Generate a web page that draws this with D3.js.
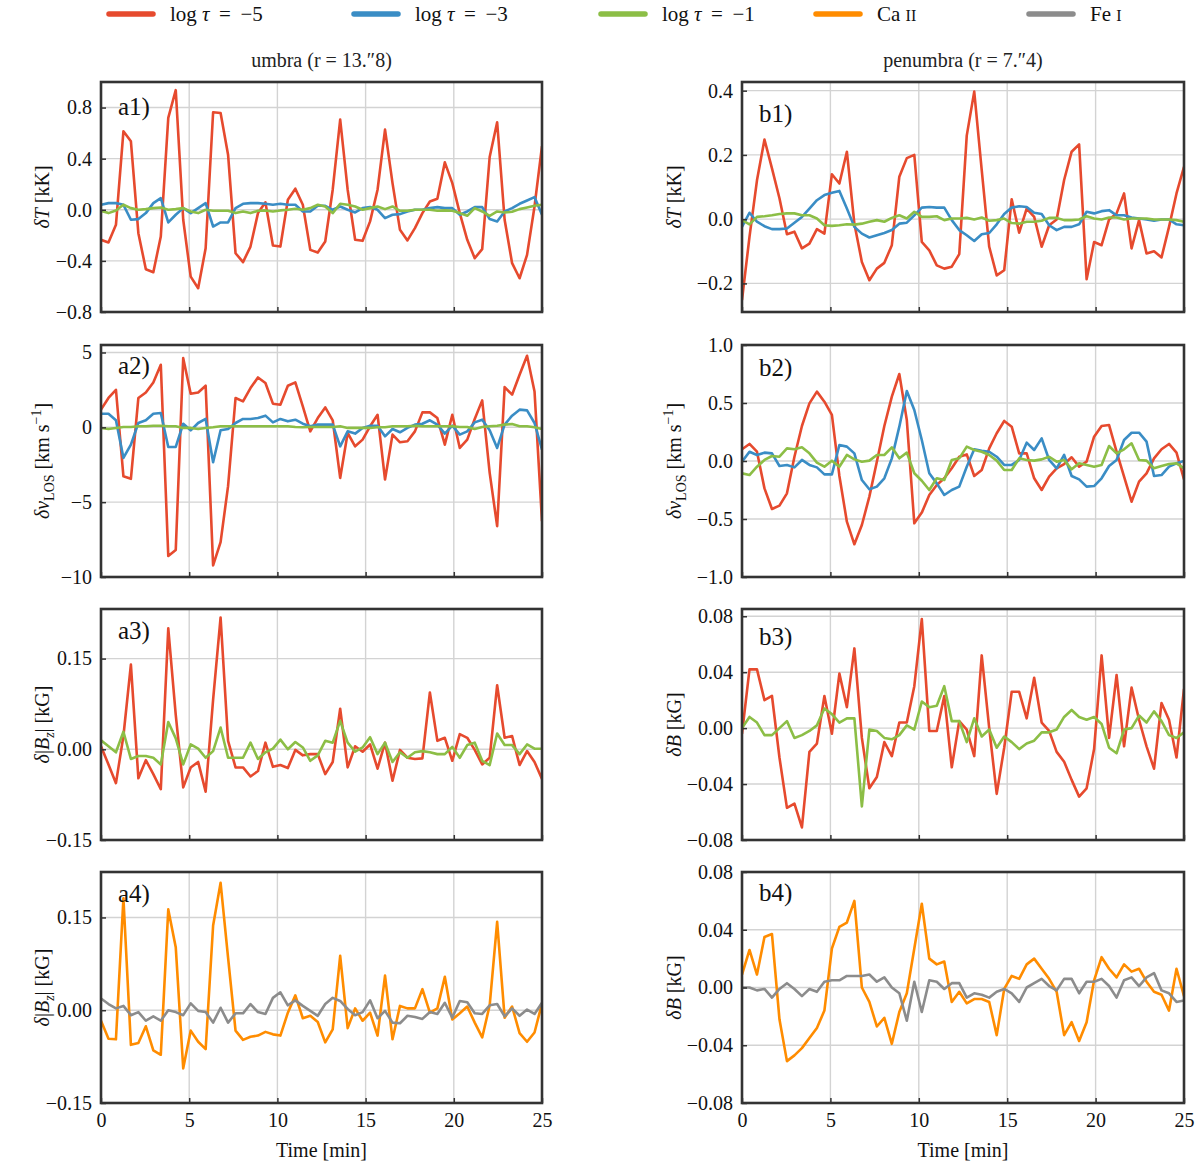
<!DOCTYPE html>
<html><head><meta charset="utf-8">
<script src="https://cdn.jsdelivr.net/npm/d3@7"></script>
<style>
body{margin:0;background:#fff;}
svg{display:block;}
svg text{font-family:"Liberation Serif","DejaVu Serif",serif;}
</style></head><body>
<svg id="chart" width="1200" height="1167"></svg>
<script>
// ---------- DATA ----------
const duration = 25, nSamples = 60;
const time = d3.range(nSamples).map(i => i * duration / (nSamples - 1));
const xTickValues = [0, 5, 10, 15, 20, 25];

// umbra, delta T [kK]
const a1_tau5 = [-0.235,-0.256,-0.118,0.614,0.536,-0.183,-0.465,-0.489,-0.209,0.719,0.936,-0.078,-0.523,-0.614,-0.301,0.763,0.758,0.431,-0.340,-0.410,-0.288,-0.026,0.058,-0.280,-0.288,0.078,0.165,0.039,-0.314,-0.335,-0.248,0.157,0.706,0.157,-0.235,-0.243,-0.091,0.157,0.627,0.209,-0.157,-0.240,-0.144,-0.026,0.065,0.086,0.371,0.209,-0.026,-0.235,-0.379,-0.308,0.413,0.685,-0.078,-0.418,-0.536,-0.353,0.026,0.497];
const a1_tau3 = [0.039,0.052,0.052,0.039,-0.078,-0.073,-0.026,0.052,0.091,-0.099,-0.039,0.013,-0.026,0.013,0.052,-0.131,-0.099,-0.099,0.013,0.047,0.052,0.052,0.047,0.039,0.047,0.039,0.039,-0.013,-0.013,0.031,0.031,0,0.026,0,-0.021,0.013,0.021,0,-0.065,-0.039,-0.034,-0.013,0,0,0.013,0.021,0.013,0.013,-0.039,-0.013,0.021,0.021,-0.073,-0.091,-0.013,0.013,0.047,0.073,0.099,-0.039];
const a1_tau1 = [-0.008,-0.026,-0.005,0.039,0.013,0,0.005,0.013,0.018,0,0.005,0.013,-0.013,-0.026,0,-0.008,-0.008,-0.008,-0.026,-0.013,-0.026,-0.008,-0.005,-0.013,-0.005,0,0.008,0,0.013,0.039,0.026,-0.026,0.047,0.039,0.026,0,0.013,0.026,0.005,0.026,-0.008,-0.008,0,0,0,-0.008,-0.005,-0.008,-0.026,-0.047,0.013,-0.013,-0.047,-0.013,-0.021,-0.016,0.005,0.018,0.031,0.039];
// umbra, delta v_LOS [km/s]
const a2_tau5 = [1.18,1.96,2.51,-3.27,-3.44,1.96,2.33,3.00,4.18,-8.60,-8.20,4.62,2.24,2.33,2.78,-9.22,-7.67,-3.93,1.96,1.73,2.62,3.33,2.96,1.58,1.51,2.78,3.00,1.40,-0.27,0.62,1.33,0.47,-3.38,-0.38,-1.27,-0.82,0.07,0.84,-3.49,-0.49,-1.00,-0.93,-0.27,1.00,1.00,0.62,-1.16,0.84,-1.38,-0.82,0.56,1.80,-3.04,-6.60,2.69,2.18,3.51,4.78,2.40,-6.27];
const a2_tau3 = [0.91,0.91,0.47,-2.04,-1.16,0.29,0.47,0.91,0.96,-1.31,-1.31,0.24,-0.20,0.29,0.56,-2.33,-0.20,-0.11,0.29,0.56,0.56,0.62,0.78,0.33,0.56,0.40,0.51,0.24,0.07,0.18,0.18,0.18,-1.27,-0.27,-0.42,-0.04,0.11,0.11,-0.60,-0.11,-0.33,-0.04,0.18,0.24,0.47,0.18,-0.42,0.11,-0.49,-0.27,0.33,0.51,-0.20,-1.38,0.18,0.78,1.18,1.13,0.29,-1.49];
const a2_tau1 = [-0.04,-0.11,-0.04,0.02,0.02,0.07,0.07,0.11,0.11,0.07,0.07,-0.04,-0.04,-0.11,-0.04,0,0.07,0.07,0.07,0.07,0.07,0.07,0.07,0.07,0.07,0.07,0.02,0,0.02,0.02,0.02,0.02,0.07,-0.04,-0.04,-0.04,-0.04,0,0,0.07,0.07,0.07,0.11,0.07,0.07,0.07,0.07,0.07,0.02,0.02,-0.11,0.02,0.07,0.11,0.18,0.22,0.07,0.07,0,-0.11];
// umbra, delta |Bz| [kG]
const a3_tau5 = [0.005,-0.025,-0.056,0.022,0.140,-0.048,-0.018,-0.041,-0.066,0.200,0.057,-0.063,-0.030,-0.021,-0.070,0.082,0.218,0.014,-0.030,-0.030,-0.045,-0.036,0.011,-0.029,-0.026,-0.031,-0.001,-0.010,-0.008,-0.008,-0.041,-0.021,0.067,-0.030,0.005,-0.004,0.008,-0.032,0.011,-0.052,-0.001,-0.014,-0.016,-0.015,0.094,0.014,0.019,-0.019,0.025,0.019,-0.001,-0.025,-0.014,0.106,0.019,0.022,-0.026,-0.003,-0.021,-0.049];
const a3_tau1 = [0.015,0.005,-0.005,0.029,-0.016,-0.011,-0.011,-0.014,-0.025,0.045,0.018,-0.025,0.008,0.001,-0.014,-0.003,0.036,-0.014,-0.014,-0.014,0.011,-0.016,-0.005,0.001,0.016,0,0.012,0.003,-0.019,-0.010,0.014,0.011,0.047,0.011,-0.004,0.003,0.020,-0.008,0.011,-0.021,-0.005,-0.014,-0.005,-0.003,-0.005,-0.008,-0.008,0.004,-0.014,0.007,0.011,-0.019,-0.026,0.026,0.007,0.007,-0.008,0.008,0.001,0.001];
const a4_ca = [-0.017,-0.046,-0.047,0.181,-0.056,-0.053,-0.026,-0.065,-0.072,0.163,0.102,-0.094,-0.033,-0.051,-0.063,0.137,0.206,0.085,-0.033,-0.048,-0.043,-0.041,-0.035,-0.039,-0.041,-0.004,0.024,-0.013,-0.009,-0.019,-0.052,-0.031,0.088,-0.029,0.003,-0.017,-0.004,-0.041,0.056,-0.047,0.007,0.003,0.003,0.034,-0.004,0.003,0.054,-0.015,-0.005,0.006,-0.020,-0.044,0.008,0.143,-0.012,0.006,-0.037,-0.051,-0.036,0.011];
const a4_fe = [0.019,0.010,0.003,0.007,-0.008,-0.003,-0.017,-0.010,-0.017,0,-0.003,-0.008,0.011,-0.001,-0.003,-0.020,0.004,-0.020,-0.005,-0.005,0.010,-0.003,-0.006,0.020,0.029,0.008,0.016,0.007,-0.001,-0.009,0.010,0.020,0.015,0.002,-0.008,-0.003,0.016,-0.013,-0.001,-0.020,-0.021,-0.009,-0.011,-0.014,-0.003,-0.006,0.012,-0.012,0.015,0.013,-0.005,-0.006,0.008,0.010,-0.010,0.003,-0.009,0.001,-0.006,0.012];

// penumbra, delta T [kK]
const b1_tau5 = [-0.252,-0.055,0.121,0.248,0.158,0.065,-0.047,-0.039,-0.091,-0.076,-0.031,-0.045,0.140,0.111,0.210,-0.014,-0.133,-0.190,-0.154,-0.136,-0.081,0.132,0.190,0.200,-0.071,-0.097,-0.144,-0.154,-0.148,-0.109,0.260,0.397,0.153,-0.086,-0.175,-0.159,0.062,-0.042,0.033,0.007,-0.086,-0.019,-0.001,0.122,0.210,0.233,-0.187,-0.071,-0.081,-0.001,0.018,0.080,-0.091,-0.003,-0.107,-0.100,-0.119,-0.024,0.080,0.163];
const b1_tau3 = [-0.024,0.020,-0.008,-0.022,-0.031,-0.031,-0.029,-0.011,0.007,0.033,0.059,0.075,0.082,0.088,0.033,-0.024,-0.045,-0.057,-0.050,-0.043,-0.034,-0.014,-0.011,0.012,0.036,0.038,0.036,0.036,-0.003,-0.034,-0.050,-0.068,-0.047,-0.043,-0.016,0.016,0.036,0.040,0.038,0.020,0.016,-0.019,-0.034,-0.024,-0.024,-0.016,0.023,0.018,0.025,0.028,0.012,0.012,0.005,0.002,-0.001,-0.005,-0.001,-0.001,-0.016,-0.019];
const b1_tau1 = [-0.003,-0.016,0.007,0.009,0.012,0.016,0.018,0.018,0.012,0.012,0.002,-0.019,-0.021,-0.019,-0.016,-0.017,-0.014,-0.008,-0.003,-0.008,0.004,0.012,0.002,0.023,0.007,0.007,0.009,-0.003,0.002,0.002,0.004,-0.001,0.005,-0.005,-0.003,0.002,-0.012,-0.014,-0.008,-0.008,-0.005,0.004,0.004,-0.003,-0.003,-0.001,0.009,0.002,-0.001,0.005,0.005,-0.001,0.002,0.002,0.002,-0.001,-0.001,-0.001,-0.003,-0.008];
// penumbra, delta v_LOS [km/s]
const b2_tau5 = [0.101,0.147,0.080,-0.236,-0.414,-0.385,-0.279,0.037,0.302,0.497,0.598,0.511,0.397,-0.129,-0.523,-0.718,-0.552,-0.307,-0.006,0.302,0.555,0.750,0.353,-0.537,-0.445,-0.293,-0.207,-0.149,-0.063,0.037,0.057,-0.129,-0.078,0.109,0.239,0.345,0.296,0.066,0.066,-0.149,-0.250,-0.135,-0.063,-0.026,0.032,-0.049,-0.006,0.210,0.302,0.310,0.080,-0.135,-0.351,-0.178,-0.106,0.023,0.101,0.147,0.072,-0.158];
const b2_tau3 = [-0.006,0.080,0.052,0.072,0.066,-0.043,-0.034,-0.055,0.009,-0.034,-0.055,-0.115,-0.115,0.138,0.124,0.066,-0.164,-0.244,-0.221,-0.149,0.023,0.296,0.603,0.440,0.181,-0.106,-0.193,-0.293,-0.250,-0.221,-0.049,0.101,0.089,0.080,0.037,-0.034,-0.034,0.009,0.158,0.095,0.195,0.009,-0.063,0.052,-0.129,-0.158,-0.221,-0.216,-0.149,-0.043,0.009,0.181,0.244,0.244,0.167,-0.129,-0.121,-0.049,-0.020,0.000];
const b2_tau1 = [-0.106,-0.121,-0.049,0.009,0.043,0.037,0.109,0.101,0.118,0.066,-0.014,-0.049,0.003,-0.049,0.052,0.014,-0.006,0.003,0.052,0.052,0.118,0.023,0.072,-0.106,-0.170,-0.250,-0.149,-0.164,0.009,0.023,0.124,0.095,0.080,0.052,0.003,-0.078,-0.078,0.023,0.009,0.003,0.014,0.037,-0.006,0.009,-0.072,-0.020,-0.034,-0.049,-0.034,0.129,0.066,0.101,0.153,0.009,0.003,-0.063,-0.043,-0.026,-0.020,-0.063];
// penumbra, delta B [kG]
const b3_tau5 = [-0.004,0.042,0.042,0.020,0.023,-0.021,-0.057,-0.054,-0.071,-0.017,-0.011,0.023,-0.004,0.039,0.015,0.057,-0.007,-0.043,-0.035,-0.010,-0.020,0.004,0.004,0.030,0.078,-0.002,-0.002,0.023,-0.028,0.005,-0.001,-0.020,0.052,0.000,-0.047,-0.014,0.026,0.026,0.007,0.036,0.004,-0.002,-0.017,-0.024,-0.037,-0.049,-0.043,-0.015,0.052,-0.007,0.038,-0.013,0.029,0.006,-0.013,-0.029,0.018,0.006,-0.021,0.028];
const b3_tau1 = [0,0.008,0.004,-0.005,-0.005,0,0.005,-0.007,-0.005,-0.002,0.002,0.014,0.010,0.004,0.007,0.007,-0.056,-0.001,-0.002,-0.007,-0.008,-0.005,0.002,-0.001,0.019,0.015,0.016,0.030,0.005,0.005,-0.010,0.007,-0.006,-0.001,-0.014,-0.006,-0.010,-0.015,-0.011,-0.009,-0.003,-0.003,-0.001,0.008,0.013,0.008,0.006,0.008,0.003,-0.014,-0.018,-0.001,0,0.009,0.004,0.012,0.005,-0.005,-0.007,-0.003];
const b4_ca = [0.009,0.026,0.009,0.035,0.037,-0.022,-0.051,-0.047,-0.042,-0.035,-0.028,-0.016,0.027,0.042,0.045,0.060,0.000,-0.010,-0.027,-0.021,-0.039,-0.017,-0.004,0.027,0.058,0.020,0.016,0.018,-0.010,-0.003,-0.011,-0.008,-0.008,-0.010,-0.033,-0.001,0.008,0.006,0.016,0.020,0.013,0.006,-0.003,-0.033,-0.024,-0.037,-0.024,0.005,0.021,0.013,0.007,0.016,0.011,0.013,0.004,-0.003,-0.005,-0.016,0.013,-0.006];
const b4_fe = [0.000,0.000,-0.002,-0.001,-0.007,-0.001,0.003,-0.001,-0.006,-0.001,-0.003,0.004,0.005,0.005,0.008,0.008,0.008,0.009,0.004,0.007,0.000,-0.004,-0.023,0.004,-0.017,0.005,0.004,-0.001,0.003,0.003,-0.007,-0.004,-0.005,-0.007,-0.003,-0.001,-0.004,-0.010,0.000,0.003,0.006,0.001,-0.002,0.006,0.006,-0.004,0.004,0.004,0.006,0.001,-0.007,0.005,0.007,0.001,0.007,0.010,-0.002,-0.004,-0.010,-0.009];

const legendLabels = ["log τ = −5", "log τ = −3", "log τ = −1", "Ca II", "Fe I"];
const columnTitles = ["umbra (r = 13.\u20338)", "penumbra (r = 7.\u20334)"];

// ---------- STYLE / LAYOUT ----------
const colors = {tau5:"#e64a2e", tau3:"#3a8dc5", tau1:"#8cbe46", ca:"#ff8c00", fe:"#8c8c8c"};
const cols = [{x0:101, x1:542}, {x0:742, x1:1184}];
const rows = [{y0:82, y1:312}, {y0:345, y1:577}, {y0:609, y1:840}, {y0:872, y1:1103}];
const FS = 20;
const SERIF = "Liberation Serif, DejaVu Serif, serif";

const yLabels = {
  T:  [{t:"δ",i:1},{t:"T",i:1},{t:" [kK]"}],
  v:  [{t:"δ",i:1},{t:"v",i:1},{t:"LOS",fs:14,dy:5},{t:" [km s",dy:-5},{t:"−1",fs:14,dy:-8},{t:"]",dy:8}],
  Bz: [{t:"δ",i:1},{t:"|"},{t:"B",i:1},{t:"z",i:1,fs:14,dy:5},{t:"| [kG]",dy:-5}],
  B:  [{t:"δ",i:1},{t:"B",i:1},{t:" [kG]"}]
};

const panels = [
  {col:0,row:0,label:"a1)",lab:"T", dom:[-0.8,1.0],   ticks:[-0.8,-0.4,0,0.4,0.8], fmt:".1f", ldy:33, series:[[a1_tau5,"tau5"],[a1_tau3,"tau3"],[a1_tau1,"tau1"]]},
  {col:0,row:1,label:"a2)",lab:"v", dom:[-10,5.5],    ticks:[-10,-5,0,5],          fmt:"d",   ldy:29, series:[[a2_tau5,"tau5"],[a2_tau3,"tau3"],[a2_tau1,"tau1"]]},
  {col:0,row:2,label:"a3)",lab:"Bz",dom:[-0.15,0.232],ticks:[-0.15,0,0.15],        fmt:".2f", ldy:30, series:[[a3_tau5,"tau5"],[a3_tau1,"tau1"]]},
  {col:0,row:3,label:"a4)",lab:"Bz",dom:[-0.15,0.2235],ticks:[-0.15,0,0.15],       fmt:".2f", ldy:30, series:[[a4_ca,"ca"],[a4_fe,"fe"]]},
  {col:1,row:0,label:"b1)",lab:"T", dom:[-0.289,0.427],ticks:[-0.2,0,0.2,0.4],     fmt:".1f", ldy:40, series:[[b1_tau5,"tau5"],[b1_tau3,"tau3"],[b1_tau1,"tau1"]]},
  {col:1,row:1,label:"b2)",lab:"v", dom:[-1,1],       ticks:[-1,-0.5,0,0.5,1],     fmt:".1f", ldy:31, series:[[b2_tau5,"tau5"],[b2_tau3,"tau3"],[b2_tau1,"tau1"]]},
  {col:1,row:2,label:"b3)",lab:"B", dom:[-0.08,0.0852],ticks:[-0.08,-0.04,0,0.04,0.08], fmt:".2f", ldy:36, series:[[b3_tau5,"tau5"],[b3_tau1,"tau1"]]},
  {col:1,row:3,label:"b4)",lab:"B", dom:[-0.08,0.08], ticks:[-0.08,-0.04,0,0.04,0.08], fmt:".2f", ldy:29, series:[[b4_ca,"ca"],[b4_fe,"fe"]]}
];

const svg = d3.select("#chart");
const defs = svg.append("defs");

function rich(textSel, parts){
  parts.forEach(p => {
    const t = textSel.append("tspan").text(p.t);
    if (p.i) t.attr("font-style","italic");
    if (p.fs) t.attr("font-size", p.fs);
    if (p.dy) t.attr("dy", p.dy);
  });
}

const xScales = cols.map(c => d3.scaleLinear().domain([0, duration]).range([c.x0, c.x1]));

panels.forEach((p, pi) => {
  const c = cols[p.col], r = rows[p.row];
  const xs = xScales[p.col];
  const ys = d3.scaleLinear().domain(p.dom).range([r.y1, r.y0]);
  const g = svg.append("g");

  const cid = "clip" + pi;
  defs.append("clipPath").attr("id", cid).append("rect")
    .attr("x", c.x0).attr("y", r.y0).attr("width", c.x1 - c.x0).attr("height", r.y1 - r.y0);

  // grid
  g.append("g").selectAll("line").data(xTickValues.filter(t => t > 0 && t < duration)).join("line")
    .attr("x1", d => xs(d)).attr("x2", d => xs(d)).attr("y1", r.y0).attr("y2", r.y1)
    .attr("stroke", "#d3d3d3").attr("stroke-width", 1.4);
  g.append("g").selectAll("line").data(p.ticks.filter(t => t > p.dom[0] && t < p.dom[1])).join("line")
    .attr("x1", c.x0).attr("x2", c.x1).attr("y1", d => ys(d)).attr("y2", d => ys(d))
    .attr("stroke", "#d3d3d3").attr("stroke-width", 1.4);

  // series
  const line = d3.line().x((d, i) => xs(time[i])).y(d => ys(d));
  p.series.forEach(([arr, key]) => {
    g.append("path").attr("d", line(arr)).attr("clip-path", `url(#${cid})`)
      .attr("fill", "none").attr("stroke", colors[key]).attr("stroke-width", 2.6)
      .attr("stroke-linejoin", "round").attr("stroke-linecap", "butt");
  });

  // axes
  const yAx = g.append("g").attr("transform", `translate(${c.x0},0)`)
    .call(d3.axisLeft(ys).tickValues(p.ticks).tickFormat(d3.format(p.fmt)).tickSize(-5).tickPadding(9));
  const xAx = g.append("g").attr("transform", `translate(0,${r.y1})`)
    .call(d3.axisBottom(xs).tickValues(xTickValues).tickSize(-5).tickPadding(10)
      .tickFormat(p.row === 3 ? d3.format("d") : () => ""));
  [yAx, xAx].forEach(a => {
    a.attr("font-family", SERIF).attr("font-size", FS);
    a.select(".domain").remove();
    a.selectAll(".tick line").attr("stroke", "#333").attr("stroke-width", 1.5);
    a.selectAll(".tick text").attr("fill", "#111").attr("font-family", SERIF);
  });

  // frame
  g.append("rect").attr("x", c.x0).attr("y", r.y0).attr("width", c.x1 - c.x0).attr("height", r.y1 - r.y0)
    .attr("fill", "none").attr("stroke", "#333").attr("stroke-width", 2.6);

  // panel label
  g.append("text").attr("x", c.x0 + 17).attr("y", r.y0 + p.ldy).attr("font-size", 25).attr("fill", "#111").text(p.label);

  // y label
  const lx = p.col === 0 ? 49 : 681;
  const ly = (r.y0 + r.y1) / 2;
  const t = g.append("text").attr("transform", `translate(${lx},${ly}) rotate(-90)`)
    .attr("text-anchor", "middle").attr("font-size", FS).attr("fill", "#111");
  rich(t, yLabels[p.lab]);

  // x label
  if (p.row === 3) {
    g.append("text").attr("x", (c.x0 + c.x1) / 2).attr("y", 1157).attr("text-anchor", "middle")
      .attr("font-size", FS).attr("fill", "#111").text("Time [min]");
  }
});

// column titles
columnTitles.forEach((s, i) => {
  svg.append("text").attr("x", (cols[i].x0 + cols[i].x1) / 2).attr("y", 67).attr("text-anchor", "middle")
    .attr("font-size", FS).attr("fill", "#222").text(s);
});

// legend
const legendKeys = ["tau5", "tau3", "tau1", "ca", "fe"];
const legendX = [107, 352, 599, 814, 1027];
const lg = svg.append("g");
legendKeys.forEach((k, i) => {
  lg.append("line").attr("x1", legendX[i] + 2).attr("x2", legendX[i] + 46).attr("y1", 14).attr("y2", 14)
    .attr("stroke", colors[k]).attr("stroke-width", 5.5).attr("stroke-linecap", "round");
  const t = lg.append("text").attr("x", legendX[i] + 63).attr("y", 21).attr("font-size", 21).attr("fill", "#111");
  const lab = legendLabels[i];
  if (lab.startsWith("log")) {
    rich(t, [{t:"log "},{t:"τ",i:1},{t:"\u2009 = \u2009" + lab.split("= ")[1]}]);
  } else {
    const [el, ion] = lab.split(" ");
    rich(t, [{t:el + " "},{t:ion,fs:16}]);
  }
});
</script>
</body></html>
